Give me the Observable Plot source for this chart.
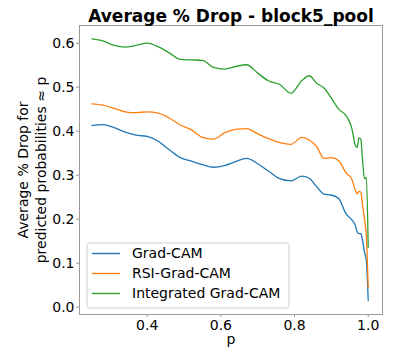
<!DOCTYPE html>
<html>
<head>
<meta charset="utf-8">
<script src="https://cdn.jsdelivr.net/npm/d3@7"></script>
<script src="https://cdn.jsdelivr.net/npm/@observablehq/plot@0.6"></script>
<style>
  html, body { margin: 0; padding: 0; background: #fff; }
  svg { font-family: "DejaVu Sans", sans-serif; }
</style>
</head>
<body>
<div id="chart"></div>
<script>
const title = "Average % Drop - block5_pool";
const xLabel = "p";
const yLabel = "Average % Drop for\npredicted probabilities ≈ p";
const seriesNames = ["Grad-CAM", "RSI-Grad-CAM", "Integrated Grad-CAM"];
const seriesColors = ["#1f77b4", "#ff7f0e", "#2ca02c"];
const xTicks = [0.4, 0.6, 0.8, 1.0];
const yTicks = [0.0, 0.1, 0.2, 0.3, 0.4, 0.5, 0.6];

const pValues = [0.25,0.28,0.31,0.34,0.37,0.40,0.43,0.46,0.49,0.52,0.55,0.58,0.61,0.64,0.67,0.70,0.73,0.76,0.79,0.82,0.84,0.86,0.88,0.90,0.92,0.94,0.955,0.965,0.97,0.975,0.98,0.985,0.99,0.995,1.0];
const gradCam = [0.413,0.415,0.408,0.398,0.391,0.388,0.377,0.358,0.340,0.332,0.324,0.318,0.322,0.331,0.338,0.326,0.309,0.292,0.287,0.298,0.293,0.274,0.257,0.255,0.247,0.212,0.199,0.186,0.171,0.167,0.167,0.150,0.125,0.105,0.015];
const rsiGradCam = [0.462,0.459,0.452,0.444,0.442,0.444,0.441,0.430,0.414,0.403,0.386,0.382,0.396,0.404,0.406,0.394,0.383,0.374,0.370,0.386,0.380,0.365,0.338,0.340,0.333,0.305,0.292,0.266,0.258,0.263,0.261,0.230,0.200,0.160,0.045];
const integratedGradCam = [0.610,0.605,0.595,0.591,0.595,0.600,0.592,0.578,0.563,0.562,0.561,0.545,0.541,0.547,0.551,0.532,0.514,0.506,0.486,0.515,0.526,0.509,0.498,0.475,0.450,0.435,0.408,0.368,0.363,0.385,0.382,0.330,0.292,0.295,0.136];

const seriesValues = [gradCam, rsiGradCam, integratedGradCam];
const rows = seriesValues.flatMap((vals, s) =>
  vals.map((v, i) => ({p: pValues[i], v, series: seriesNames[s]})));

const W = 418, H = 355;
const mL = 79, mR = 36, mT = 25, mB = 41;

function legend(index, scales, values, dimensions) {
  const g = d3.create("svg:g");
  const bx = mL + 8, by = H - mB - 71;
  g.append("rect")
    .attr("x", bx).attr("y", by).attr("width", 202).attr("height", 65)
    .attr("rx", 3).attr("fill", "white").attr("fill-opacity", 0.8)
    .attr("stroke", "#d0d0d0").attr("stroke-width", 1);
  seriesNames.forEach((name, i) => {
    const yy = by + 10.5 + i * 20;
    g.append("line")
      .attr("x1", bx + 5).attr("x2", bx + 33).attr("y1", yy).attr("y2", yy)
      .attr("stroke", seriesColors[i]).attr("stroke-width", 1.4);
    g.append("text")
      .attr("x", bx + 45).attr("y", yy).attr("dy", "0.35em")
      .attr("text-anchor", "start")
      .attr("font-size", 14).attr("fill", "#000").text(name);
  });
  return g.node();
}

const chart = Plot.plot({
  width: W,
  height: H,
  marginLeft: mL,
  marginRight: mR,
  marginTop: mT,
  marginBottom: mB,
  style: {fontFamily: "DejaVu Sans, sans-serif", background: "white", color: "#000"},
  x: {domain: [0.2163, 1.0388], label: null},
  y: {domain: [-0.0166, 0.6402], label: null},
  color: {domain: seriesNames, range: seriesColors},
  marks: [
    Plot.frame({stroke: "#999", strokeWidth: 1}),
    Plot.axisX({ticks: xTicks, tickFormat: d3.format(".1f"), tickSize: 3, tickPadding: 3, fontSize: 14, stroke: "#999", label: null}),
    Plot.axisY({ticks: yTicks, tickFormat: d3.format(".1f"), tickSize: 3, tickPadding: 2, fontSize: 14, stroke: "#999", label: null}),
    Plot.line(rows, {x: "p", y: "v", z: "series", stroke: "series", strokeWidth: 1.3, curve: "monotone-x"}),
    legend,
    Plot.text([title], {frameAnchor: "top", dy: -9, lineAnchor: "middle", fontSize: 17, fontWeight: "bold", fill: "#000"}),
    Plot.text([xLabel], {frameAnchor: "bottom", dy: 25, lineAnchor: "middle", fontSize: 14, fill: "#000"}),
    Plot.text([yLabel], {frameAnchor: "left", dx: -48, rotate: -90, textAnchor: "middle", lineAnchor: "middle", lineHeight: 1.22, fontSize: 14, fill: "#000"})
  ]
});
document.getElementById("chart").appendChild(chart);
</script>
</body>
</html>
